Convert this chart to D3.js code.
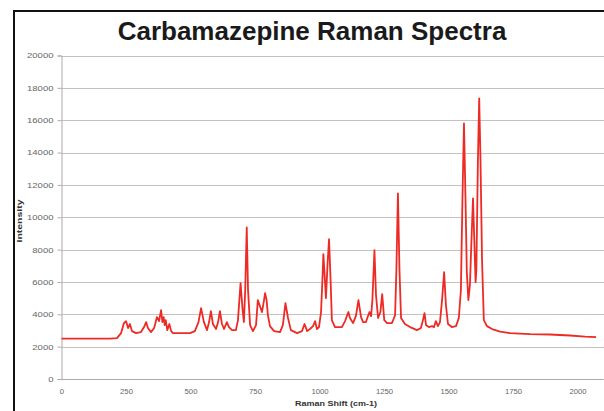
<!DOCTYPE html>
<html>
<head>
<meta charset="utf-8">
<script src="https://cdn.jsdelivr.net/npm/d3@7"></script>
<style>
	body{margin:0;background:#fff;}
	svg{display:block;font-family:"Liberation Sans",Arial,sans-serif;}
</style>
</head>
<body>
<div id="chart"></div>
<script>

// spectrum
let shift = [0,188,215,231,242,250,258,265,273,289,308,320,328,335,347,359,370,378,386,391,396,400,404,410,418,425,432,450,498,517,531,541,552,564,572,579,587,599,607,614,622,630,641,649,661,676,684,694,702,707,712,718,723,731,742,754,761,769,777,785,789,795,800,808,824,847,858,868,878,889,913,932,942,952,963,975,983,990,998,1006,1012,1015,1021,1025,1031,1037,1043,1048,1060,1087,1099,1112,1118,1130,1141,1151,1161,1169,1180,1188,1194,1200,1205,1213,1219,1227,1236,1243,1251,1262,1281,1293,1298,1304,1310,1316,1331,1351,1378,1393,1401,1407,1413,1424,1436,1444,1451,1459,1467,1475,1483,1490,1498,1513,1529,1540,1548,1554,1560,1566,1571,1577,1583,1589,1595,1600,1605,1608,1614,1619,1624,1630,1637,1649,1669,1700,1738,1816,1893,1971,2029,2072]
let intensity = [2500,2500,2530,2840,3460,3580,3150,3400,2960,2840,2900,3210,3520,3150,2900,3150,3830,3580,4260,3520,3830,3330,3640,3020,3400,2960,2840,2840,2840,2960,3520,4380,3520,3020,3520,4200,3400,3090,3520,4200,3400,3090,3520,3210,3020,3020,3640,5930,4260,3520,5490,9380,5490,3330,2960,3330,4880,4510,4140,4880,5310,4880,3950,3270,2960,2900,3330,4690,3770,3020,2840,2960,3400,2960,3090,3270,3580,3090,3210,4140,6420,7720,6110,5000,7040,8640,6110,3640,3210,3210,3580,4140,3770,3460,3890,4880,3830,3520,3520,3890,4140,3890,4880,7960,5190,3770,4140,5250,3640,3460,3460,3950,6730,11480,6730,3770,3400,3210,3020,3150,3640,4070,3330,3210,3270,3210,3580,3270,3520,4880,6600,4570,3400,3210,3270,3770,5490,11050,15800,11050,6600,4880,5800,8580,11170,8580,5990,6730,13520,17350,13520,7350,3640,3270,3090,2930,2840,2780,2750,2690,2620,2590]

let yTicks = [0,2000,4000,6000,8000,10000,12000,14000,16000,18000,20000]
let xTicks = [0,250,500,750,1000,1250,1500,1750,2000]

let chartTitle = 'Carbamazepine Raman Spectra'
let xTitle = 'Raman Shift (cm-1)'
let yTitle = 'Intensity'

function drawChart(){
	let width = 604, height = 411

	let svg = d3.select('#chart').append('svg')
		.attr('width', width)
		.attr('height', height)

	// outer frame, only left and top edges show
	svg.append('rect')
		.attr('x', 14).attr('y', 11)
		.attr('width', 640).attr('height', 440)
		.attr('fill', '#fff')
		.attr('stroke', '#111')
		.attr('stroke-width', 2)

	svg.append('text')
		.attr('x', 312).attr('y', 40)
		.attr('text-anchor', 'middle')
		.attr('font-size', 26)
		.attr('font-weight', 'bold')
		.attr('fill', '#1a1a1a')
		.text(chartTitle)

	let x = d3.scaleLinear().domain([0, 2100]).range([61.5, 603.3])
	let y = d3.scaleLinear().domain([0, 20000]).range([379, 55.5])

	// gridlines
	svg.append('g').selectAll('line')
		.data(yTicks.filter(function(t){ return t > 0 }))
		.enter().append('line')
		.attr('x1', x(0)).attr('x2', width)
		.attr('y1', function(d){ return Math.round(y(d)) + 0.5 })
		.attr('y2', function(d){ return Math.round(y(d)) + 0.5 })
		.attr('stroke', '#c9c1c1')
		.attr('stroke-width', 1)

	let yAxis = svg.append('g')
		.attr('transform', 'translate(' + x(0) + ',0)')
		.call(d3.axisLeft(y).tickValues(yTicks).tickSize(4).tickPadding(4).tickFormat(d3.format('d')))
	yAxis.select('.domain').attr('stroke', '#b3a9a9')
	yAxis.selectAll('.tick line').attr('stroke', '#b3a9a9')
	yAxis.selectAll('text')
		.attr('font-size', 7.5).attr('fill', '#666')
		.attr('textLength', function(d){ return String(d).length * 5.3 })
		.attr('lengthAdjust', 'spacingAndGlyphs')

	let xAxis = svg.append('g')
		.attr('transform', 'translate(0,' + y(0) + ')')
		.call(d3.axisBottom(x).tickValues(xTicks).tickSize(0).tickPadding(10).tickFormat(d3.format('d')))
	xAxis.select('.domain').attr('stroke', '#b3a9a9')
	xAxis.selectAll('text')
		.attr('font-size', 7.5).attr('fill', '#666')
		.attr('textLength', function(d){ return String(d).length * 4.3 })
		.attr('lengthAdjust', 'spacingAndGlyphs')

	svg.append('text')
		.attr('x', 336).attr('y', 406)
		.attr('text-anchor', 'middle')
		.attr('font-size', 7.5)
		.attr('font-weight', 'bold')
		.attr('fill', '#333')
		.attr('textLength', 82)
		.attr('lengthAdjust', 'spacingAndGlyphs')
		.text(xTitle)

	svg.append('text')
		.attr('transform', 'translate(22,221) rotate(-90)')
		.attr('text-anchor', 'middle')
		.attr('font-size', 7.5)
		.attr('font-weight', 'bold')
		.attr('fill', '#333')
		.attr('textLength', 43)
		.attr('lengthAdjust', 'spacingAndGlyphs')
		.text(yTitle)

	let points = shift.map(function(s, i){ return {'s':s, 'v':intensity[i]} })

	let line = d3.line()
		.x(function(d){ return x(d.s) })
		.y(function(d){ return y(d.v) })

	svg.append('path')
		.datum(points)
		.attr('d', line)
		.attr('fill', 'none')
		.attr('stroke', '#ee2a24')
		.attr('stroke-width', 1.8)
		.attr('stroke-linejoin', 'round')
}

drawChart()
</script>
</body>
</html>
